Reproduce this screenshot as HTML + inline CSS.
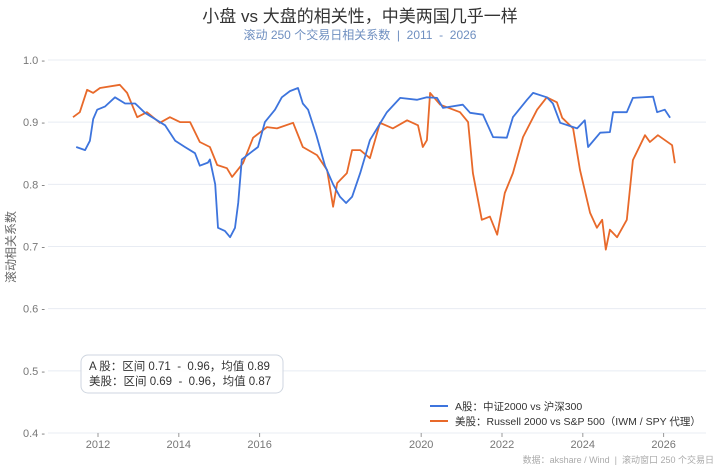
<!DOCTYPE html>
<html><head><meta charset="utf-8"><style>
body{margin:0;background:#fff;}
svg text{font-family:"Liberation Sans","Noto Sans CJK SC",sans-serif;white-space:pre;}
</style></head><body>
<svg id="c" width="720" height="471" viewBox="0 0 720 471">
<rect width="720" height="471" fill="#fff"/>
<text x="360" y="22" text-anchor="middle" font-size="17" fill="#333">小盘 vs 大盘的相关性，中美两国几乎一样</text>
<text x="360" y="39" text-anchor="middle" font-size="12" fill="#6f8fc0">滚动 250 个交易日相关系数  |  2011  -  2026</text>
<text transform="translate(15,247) rotate(-90)" text-anchor="middle" font-size="12" fill="#666">滚动相关系数</text>
<g id="grid"></g><g id="xt"></g><g id="series"></g>
<g>
<rect x="81" y="355" width="202" height="38" rx="7" fill="#fff" fill-opacity="0.9" stroke="#cfd6e0"/>
<text x="89" y="370" font-size="11.5" fill="#333">A 股：区间 0.71  -  0.96，均值 0.89</text>
<text x="89" y="385" font-size="11.5" fill="#333">美股：区间 0.69  -  0.96，均值 0.87</text>
</g>
<g>
<line x1="430" y1="406" x2="448" y2="406" stroke="#3d74dd" stroke-width="2"/>
<text x="455" y="410" font-size="10.5" fill="#333">A股：中证2000 vs 沪深300</text>
<line x1="430" y1="421" x2="448" y2="421" stroke="#e8692a" stroke-width="2"/>
<text x="455" y="425" font-size="10.5" fill="#333">美股：Russell 2000 vs S&amp;P 500（IWM / SPY 代理）</text>
</g>
<text x="714" y="463" text-anchor="end" font-size="9" fill="#aaa">数据：akshare / Wind  |  滚动窗口 250 个交易日</text>
</svg>
<script>
const yTicks=[0.4,0.5,0.6,0.7,0.8,0.9,1.0];
const xTicks=[2012,2014,2016,2020,2022,2024,2026];
const aDates=[2011.46,2011.68,2011.80,2011.88,2011.98,2012.17,2012.42,2012.67,2012.92,2013.16,2013.41,2013.66,2013.91,2014.15,2014.40,2014.52,2014.72,2014.77,2014.90,2014.97,2015.14,2015.27,2015.39,2015.47,2015.56,2015.76,2015.96,2016.13,2016.38,2016.55,2016.75,2016.95,2017.07,2017.20,2017.40,2017.62,2017.82,2017.99,2018.14,2018.29,2018.49,2018.73,2019.15,2019.48,2019.90,2020.14,2020.39,2020.54,2021.03,2021.21,2021.53,2021.78,2022.12,2022.27,2022.62,2022.77,2023.11,2023.26,2023.44,2023.86,2024.05,2024.13,2024.43,2024.67,2024.75,2025.09,2025.24,2025.74,2025.84,2026.03,2026.16];
const aVals=[0.86,0.855,0.87,0.905,0.92,0.925,0.94,0.93,0.93,0.915,0.905,0.895,0.87,0.86,0.85,0.83,0.835,0.84,0.80,0.73,0.725,0.715,0.73,0.77,0.84,0.85,0.86,0.90,0.92,0.94,0.95,0.955,0.93,0.92,0.88,0.83,0.80,0.78,0.77,0.78,0.818,0.871,0.916,0.939,0.936,0.94,0.939,0.923,0.928,0.915,0.912,0.876,0.875,0.908,0.936,0.947,0.94,0.93,0.899,0.89,0.903,0.86,0.883,0.884,0.916,0.916,0.939,0.941,0.916,0.92,0.907];
const uDates=[2011.38,2011.55,2011.73,2011.88,2012.05,2012.54,2012.72,2012.97,2013.21,2013.53,2013.78,2014.03,2014.28,2014.52,2014.77,2014.95,2015.19,2015.32,2015.59,2015.84,2016.18,2016.43,2016.83,2017.07,2017.42,2017.67,2017.82,2017.92,2018.16,2018.29,2018.49,2018.73,2018.98,2019.30,2019.65,2019.92,2020.04,2020.14,2020.22,2020.47,2020.96,2021.16,2021.28,2021.50,2021.70,2021.88,2022.07,2022.27,2022.52,2022.87,2023.11,2023.36,2023.49,2023.76,2023.93,2024.18,2024.35,2024.48,2024.57,2024.67,2024.85,2025.09,2025.24,2025.54,2025.66,2025.86,2026.21,2026.28];
const uVals=[0.908,0.916,0.952,0.947,0.955,0.96,0.947,0.908,0.916,0.899,0.908,0.9,0.9,0.868,0.86,0.831,0.826,0.812,0.834,0.875,0.892,0.89,0.899,0.86,0.847,0.823,0.764,0.802,0.818,0.855,0.855,0.842,0.899,0.89,0.903,0.895,0.86,0.871,0.947,0.928,0.916,0.9,0.818,0.743,0.748,0.719,0.786,0.818,0.876,0.92,0.94,0.932,0.907,0.89,0.823,0.754,0.73,0.743,0.695,0.727,0.715,0.743,0.839,0.879,0.868,0.879,0.863,0.834];
const NS='http://www.w3.org/2000/svg';
const X=d=>98+(d-2012)*40.4;
const Y=v=>433-(v-0.4)*621.7;
function mk(t,a,p){const e=document.createElementNS(NS,t);for(const k in a)e.setAttribute(k,a[k]);p.appendChild(e);return e;}
const grid=document.getElementById('grid');
yTicks.forEach(v=>{
  const l=mk('line',{x1:48,x2:706,y1:Y(v),y2:Y(v),stroke:'#e8ecf3','stroke-width':1},grid);
  
  
  const t=mk('text',{x:45,y:Y(v)+4,'text-anchor':'end','font-size':11,fill:'#777'},grid);
  t.textContent=v.toFixed(1)+' -';
  
  
});
const xt=document.getElementById('xt');
xTicks.forEach(d=>{
  mk('line',{x1:X(d),x2:X(d),y1:433,y2:437,stroke:'#999'},xt);
  const t=mk('text',{x:X(d),y:448,'text-anchor':'middle','font-size':11,fill:'#777'},xt);
  t.textContent=d;
  
  
});
const sg=document.getElementById('series');
function line(ds,vs,col,name){
  const p=mk('path',{d:ds.map((d,i)=>(i?'L':'M')+X(d).toFixed(1)+','+Y(vs[i]).toFixed(1)).join(''),fill:'none',stroke:col,'stroke-width':1.8,'stroke-linejoin':'round'},sg);
  
  
}
line(uDates,uVals,'#e8692a','us-series-line');
line(aDates,aVals,'#3d74dd','a-share-series-line');
</script>
</body></html>
